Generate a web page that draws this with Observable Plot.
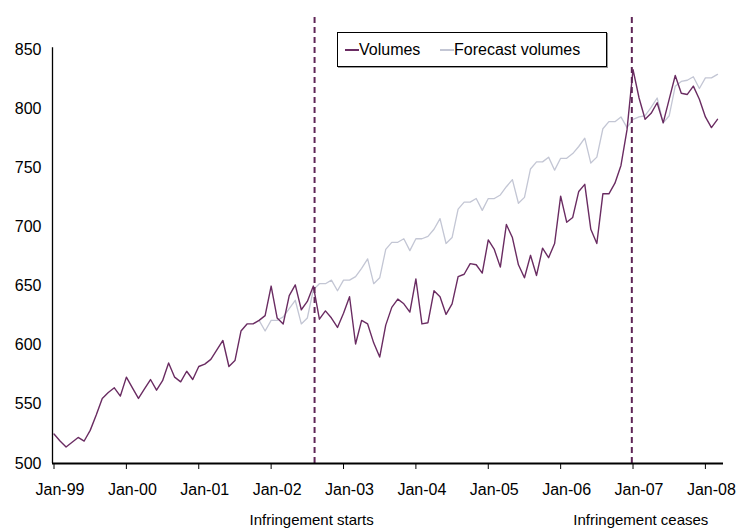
<!DOCTYPE html>
<html><head><meta charset="utf-8">
<script src="https://cdn.jsdelivr.net/npm/d3@7"></script>
<script src="https://cdn.jsdelivr.net/npm/@observablehq/plot@0.6"></script>
<style>
body{margin:0;background:#fff;}
#wrap{position:relative;width:736px;height:530px;font-family:"Liberation Sans",Arial,sans-serif;}
#legend{position:absolute;left:337px;top:32px;width:268px;height:33px;border:1px solid #000;box-shadow:1px 1px 0 #999;background:#fff;font-size:16px;color:#000;}
#legend .item{position:absolute;top:0;height:33px;display:flex;align-items:center;white-space:nowrap;}
#legend .sw{display:inline-block;width:14px;height:0;border-top:2px solid;}
</style></head><body><div id="wrap"></div>
<script>
// Monthly series, Jan-99 .. Mar-08
const startYear = 1999;
const volumes = [
  525,519,514,518,522,519,528,541,555,560,564,557,
  573,564,555,563,571,562,570,585,573,569,578,571,
  582,584,588,596,604,582,587,612,618,618,621,625,
  650,623,618,642,651,630,637,650,622,629,623,615,
  627,641,601,621,618,602,590,617,632,639,635,628,
  656,618,619,646,641,626,635,658,660,669,668,661,
  689,681,666,702,691,668,657,676,659,682,674,686,
  726,704,708,730,736,698,686,728,728,737,752,782,
  833,809,791,796,805,788,808,828,813,812,819,808,
  793,784,791
];
// Forecast volumes begin Nov-01 (month index 34)
const forecastStartMonth = 34;
const forecastVolumes = [
  621,612,621,621,624,631,638,618,623,647,652,652,655,646,
  655,655,658,665,673,652,657,681,687,687,690,680,
  690,690,692,698,707,686,691,715,721,721,724,714,
  724,724,727,734,740,720,725,749,755,755,759,748,
  758,758,762,768,775,754,759,783,789,789,793,784,
  791,793,794,801,809,788,794,819,823,824,827,817,
  826,826,829
];
const tickMonths = [0,12,24,36,48,60,72,84,96,108];
const tickLabels = ["Jan-99","Jan-00","Jan-01","Jan-02","Jan-03","Jan-04","Jan-05","Jan-06","Jan-07","Jan-08"];
const yTicks = [500,550,600,650,700,750,800,850];
const infringeStart = 43.2;   // month index (mid Aug-02)
const infringeEnd = 95.8;     // month index (~Jan-07)

const data = volumes.map((v, i) => ({
  i,
  volume: v,
  forecast: i >= forecastStartMonth ? forecastVolumes[i - forecastStartMonth] : null
}));

const purple = "#6a2c62";
const dashPurple = "#5f2557";
const grey = "#c3c6d4";

const plot = Plot.plot({
  width: 736, height: 530,
  marginLeft: 52, marginRight: 13, marginTop: 49, marginBottom: 67,
  style: {fontFamily: "'Liberation Sans', Arial, sans-serif", fontSize: "16px", color: "#000", background: "#fff", overflow: "visible"},
  x: {domain: [-0.25, 111], axis: null, label: null},
  y: {domain: [500, 850], axis: null, label: null},
  marks: [
    Plot.axisY({ticks: yTicks, tickSize: 0, tickPadding: 11, tickFormat: d => String(d), fontSize: 16, label: null}),
    Plot.ruleX([-0.25], {y1: 500, y2: 851.5, stroke: "#000", strokeWidth: 1.3}),
    Plot.line(data, {x: "i", y: "forecast", stroke: grey, strokeWidth: 1.3}),
    Plot.line(data, {x: "i", y: "volume", stroke: purple, strokeWidth: 1.4}),
    Plot.ruleX([infringeStart, infringeEnd], {y1: 500, y2: 880, stroke: dashPurple, strokeWidth: 2, strokeDasharray: "6,4"}),
    Plot.ruleY([500], {stroke: "#000", strokeWidth: 2.2}),
    Plot.axisX({ticks: tickMonths, tickSize: 6, tickFormat: () => "", stroke: "#000", label: null}),
    Plot.axisX({ticks: tickMonths, tickSize: 0, tickPadding: 20, dx: 6, fontSize: 16, label: null,
      tickFormat: d => tickLabels[tickMonths.indexOf(d)]}),
    Plot.text(["Infringement starts"], {x: [infringeStart], text: d => d, frameAnchor: "bottom", dy: 61, dx: -3, fontSize: 15}),
    Plot.text(["Infringement ceases"], {x: [infringeEnd], text: d => d, frameAnchor: "bottom", dy: 61, dx: 9, fontSize: 15})
  ]
});

const wrap = document.getElementById("wrap");
wrap.appendChild(plot);
const legend = document.createElement("div");
legend.id = "legend";
legend.innerHTML =
  `<div class="item" style="left:7px"><span class="sw" style="border-color:${purple}"></span><span>Volumes</span></div>` +
  `<div class="item" style="left:102px"><span class="sw" style="border-color:${grey}"></span><span>Forecast volumes</span></div>`;
wrap.appendChild(legend);
</script></body></html>
